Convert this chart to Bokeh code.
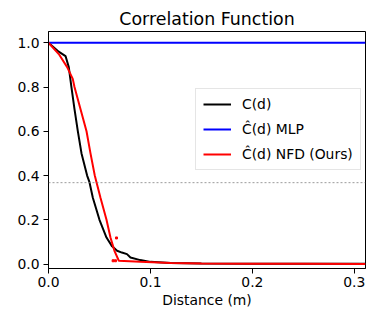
from bokeh.plotting import figure
from bokeh.models import Range1d, FixedTicker, PrintfTickFormatter, Legend, LegendItem, Span
from bokeh.embed import file_html
from bokeh.resources import INLINE

# Data
d_true = [0.0, 0.005, 0.01, 0.0167, 0.0199, 0.0225, 0.0255, 0.0288, 0.0324, 0.0379, 0.0402,
          0.0435, 0.050, 0.0569, 0.0624, 0.0673, 0.072, 0.077, 0.0804, 0.090, 0.100, 0.12,
          0.15, 0.20, 0.25, 0.311]
c_true = [1.0, 0.98, 0.96, 0.94, 0.89, 0.80, 0.70, 0.60, 0.50, 0.40, 0.37,
          0.30, 0.20, 0.12, 0.08, 0.06, 0.052, 0.045, 0.03, 0.018, 0.01, 0.005,
          0.003, 0.002, 0.001, 0.001]

d_mlp = [0.0, 0.1, 0.2, 0.311]
c_mlp = [1.0, 1.0, 1.0, 1.0]

d_nfd = [0.0, 0.0101, 0.0183, 0.0238, 0.0255, 0.0373, 0.0412, 0.0454, 0.051, 0.0569,
         0.0608, 0.0634, 0.0647, 0.0690, 0.09, 0.12, 0.15, 0.2, 0.25, 0.311]
c_nfd = [1.0, 0.949, 0.89, 0.837, 0.80, 0.60, 0.50, 0.40, 0.30, 0.20,
         0.12, 0.08, 0.06, 0.015, 0.01, 0.005, 0.003, 0.002, 0.001, 0.0]

d_dots = [0.0667, 0.0634, 0.0657]
c_dots = [0.118, 0.015, 0.015]

threshold = 0.3679

x_ticks = [0.0, 0.1, 0.2, 0.3]
y_ticks = [0.0, 0.2, 0.4, 0.6, 0.8, 1.0]

FONT = "DejaVu Sans"

p = figure(width=367, height=313, output_backend="svg", toolbar_location=None,
           x_range=Range1d(0.0, 0.311), y_range=Range1d(-0.02, 1.051),
           min_border_left=48, min_border_right=2, min_border_top=31, min_border_bottom=45,
           title="Correlation Function")
p.title.align = "center"
p.title.text_font = FONT
p.title.text_font_size = "17.4px"
p.title.text_font_style = "normal"
p.title.text_color = "black"
p.title.standoff = 6

p.grid.visible = False
p.outline_line_color = "black"
p.outline_line_width = 1
p.outline_line_alpha = 1
p.background_fill_color = "white"
p.border_fill_color = "white"

for ax in (p.xaxis[0], p.yaxis[0]):
    ax.axis_line_color = "black"
    ax.major_tick_line_color = "black"
    ax.major_tick_out = 5
    ax.major_tick_in = 0
    ax.minor_tick_line_color = None
    ax.major_label_text_font = FONT
    ax.major_label_text_font_size = "13.9px"
    ax.major_label_text_color = "black"
    ax.axis_label_text_font = FONT
    ax.axis_label_text_font_size = "13.9px"
    ax.axis_label_text_font_style = "normal"
    ax.axis_label_text_color = "black"
    ax.formatter = PrintfTickFormatter(format="%.1f")

p.xaxis[0].ticker = FixedTicker(ticks=x_ticks)
p.yaxis[0].ticker = FixedTicker(ticks=y_ticks)
p.xaxis[0].axis_label = "Distance (m)"
p.xaxis[0].axis_label_standoff = 2
p.xaxis[0].major_label_standoff = 3
p.yaxis[0].major_label_standoff = 4

p.add_layout(Span(location=threshold, dimension="width", line_color="gray",
                  line_width=0.8, line_dash="2 2"))

r_true = p.line(d_true, c_true, line_color="black", line_width=2)
r_mlp = p.line(d_mlp, c_mlp, line_color="blue", line_width=2)
r_nfd = p.line(d_nfd, c_nfd, line_color="red", line_width=2)
p.scatter(d_dots, c_dots, marker="square", size=2, color="red")

legend = Legend(items=[LegendItem(label="C(d)", renderers=[r_true]),
                       LegendItem(label="Ĉ(d) MLP", renderers=[r_mlp]),
                       LegendItem(label="Ĉ(d) NFD (Ours)", renderers=[r_nfd])],
                location=(147, 98))
legend.label_text_font = FONT
legend.label_text_font_size = "13.9px"
legend.label_text_color = "black"
legend.glyph_width = 28
legend.glyph_height = 16
legend.spacing = 9
legend.padding = 7
legend.margin = 0
legend.label_standoff = 11
legend.border_line_color = "#cccccc"
legend.border_line_width = 1
legend.background_fill_alpha = 0.8
p.add_layout(legend)

open("out.html", "w").write(file_html(p, INLINE))
